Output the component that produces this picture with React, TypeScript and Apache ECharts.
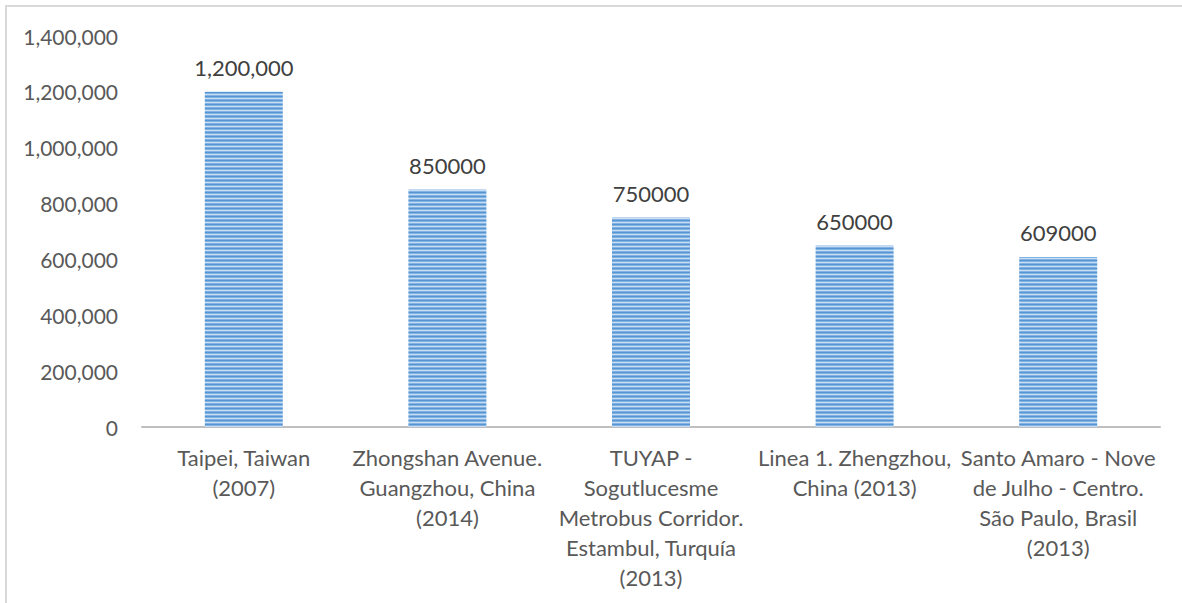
import React, { useEffect, useRef } from "react";
import * as echarts from "echarts";

const categories = [
  "Taipei, Taiwan\n(2007)",
  "Zhongshan Avenue.\nGuangzhou, China\n(2014)",
  "TUYAP -\nSogutlucesme\nMetrobus Corridor.\nEstambul, Turquía\n(2013)",
  "Linea 1. Zhengzhou,\nChina (2013)",
  "Santo Amaro - Nove\nde Julho - Centro.\nSão Paulo, Brasil\n(2013)",
];
const values = [1200000, 850000, 750000, 650000, 609000];
const valueLabels = ["1,200,000", "850000", "750000", "650000", "609000"];
const yTicks = { min: 0, max: 1400000, interval: 200000 };

function makeStripe(): string {
  const c = document.createElement("canvas");
  c.width = 4;
  c.height = 4;
  const ctx = c.getContext("2d")!;
  const rows = ["#5694d2", "#82b3e3", "#c8ddf3", "#82b3e3"];
  rows.forEach((col, i) => {
    ctx.fillStyle = col;
    ctx.fillRect(0, i, 4, 1);
  });
  return c.toDataURL();
}

export default function App() {
  const ref = useRef<HTMLDivElement>(null);
  useEffect(() => {
    if (!ref.current) return;
    const chart = echarts.init(ref.current, null, { renderer: "svg" });
    const stripe = makeStripe();
    chart.setOption({
      animation: false,
      backgroundColor: "#ffffff",
      textStyle: { fontFamily: "Lato" },
      graphic: [
        {
          type: "polyline",
          shape: { points: [[6, 603], [6, 6], [1182, 6]] },
          style: { stroke: "#d9d9d9", lineWidth: 2, fill: "none" },
          silent: true,
        },
      ],
      grid: { left: 142, right: 22, top: 36, bottom: 176, containLabel: false },
      xAxis: {
        type: "category",
        data: categories,
        axisLine: { lineStyle: { color: "#bfbfbf", width: 2 } },
        axisTick: { show: false },
        axisLabel: {
          interval: 0,
          color: "#595959",
          fontSize: 22,
          lineHeight: 30,
          margin: 15,
          fontFamily: "Lato",
        },
      },
      yAxis: {
        type: "value",
        min: yTicks.min,
        max: yTicks.max,
        interval: yTicks.interval,
        splitLine: { show: false },
        axisLine: { show: false },
        axisTick: { show: false },
        axisLabel: {
          color: "#595959",
          fontSize: 21,
          margin: 24,
          fontFamily: "Lato",
          formatter: (v: number) => v.toLocaleString("en-US"),
        },
      },
      series: [
        {
          type: "bar",
          data: values,
          barWidth: 78,
          itemStyle: {
            color: { image: stripe, repeat: "repeat" } as any,
          },
          label: {
            show: true,
            position: "top",
            distance: 13,
            color: "#404040",
            fontSize: 22,
            fontFamily: "Lato",
            formatter: (p: any) => valueLabels[p.dataIndex],
          },
        },
      ],
    });
    return () => chart.dispose();
  }, []);
  return <div ref={ref} style={{ width: 1182, height: 603, position: "absolute", left: 0, top: 0 }} />;
}
